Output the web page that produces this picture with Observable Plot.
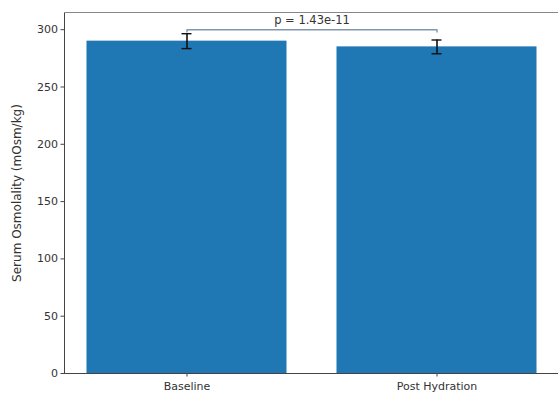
<!DOCTYPE html>
<html>
<head>
<meta charset="utf-8">
<script src="https://cdn.jsdelivr.net/npm/d3@7"></script>
<script src="https://cdn.jsdelivr.net/npm/@observablehq/plot@0.6"></script>
<style>
  html, body { margin: 0; padding: 0; background: #fff; }
  #chart svg { display: block; font-family: "DejaVu Sans", sans-serif; }
</style>
</head>
<body>
<div id="chart"></div>
<script>
const categories = ["Baseline", "Post Hydration"];
const means = [290, 285];
const errors = [6.5, 6];
const yTicks = [0, 50, 100, 150, 200, 250, 300];
const pLabel = "p = 1.43e-11";
const bracketY = 300;
const bracketDrop = 2;

const idx = categories.map((c, i) => i);
const barData = idx.map(i => ({i, cat: categories[i], mean: means[i], err: errors[i]}));
const bracket = [
  {x: 0, y: bracketY - bracketDrop},
  {x: 0, y: bracketY},
  {x: 1, y: bracketY},
  {x: 1, y: bracketY - bracketDrop}
];

const barHalf = 0.4;
const capHalf = 0.02;
const ink = "#444";

const chart = Plot.plot({
  width: 558,
  height: 394,
  marginLeft: 64,
  marginRight: 0,
  marginTop: 12,
  marginBottom: 21,
  style: {fontFamily: "DejaVu Sans, sans-serif", fontSize: "11px", color: "#333", background: "#fff"},
  x: {type: "linear", domain: [-0.49, 1.49], range: [64, 559], axis: null},
  y: {domain: [0, 315], axis: null},
  marks: [
    Plot.rectY(barData, {x1: d => d.i - barHalf, x2: d => d.i + barHalf, y1: 0, y2: "mean", fill: "#1f77b4"}),
    // error bars
    Plot.ruleX(barData, {x: "i", y1: d => d.mean - d.err, y2: d => d.mean + d.err, stroke: "#111", strokeWidth: 1.6}),
    Plot.ruleY(barData, {y: d => d.mean - d.err, x1: d => d.i - capHalf, x2: d => d.i + capHalf, stroke: "#111", strokeWidth: 1.4}),
    Plot.ruleY(barData, {y: d => d.mean + d.err, x1: d => d.i - capHalf, x2: d => d.i + capHalf, stroke: "#111", strokeWidth: 1.4}),
    // significance bracket
    Plot.line(bracket, {x: "x", y: "y", stroke: "#7f97b0", strokeWidth: 1.4}),
    Plot.text([pLabel], {x: 0.5, y: bracketY, text: d => d, dy: -9, fill: "#333", fontSize: 11.5}),
    // frame: left, bottom, top spines
    Plot.ruleX([-0.49], {stroke: ink}),
    Plot.ruleY([0], {stroke: ink}),
    Plot.ruleY([315], {stroke: "#888"}),
    // axes
    Plot.axisY(yTicks, {tickSize: 3.5, tickPadding: 3, fontSize: 11, stroke: ink, fill: "#333", label: null}),
    Plot.axisY({fontSize: 12, label: "Serum Osmolality (mOsm/kg)", labelAnchor: "center", labelArrow: "none", labelOffset: 52, ticks: [], tickSize: 0, fill: "#333"}),
    Plot.axisX(idx, {tickSize: 3.5, tickPadding: 5, fontSize: 11, tickFormat: i => categories[i], label: null, stroke: ink, fill: "#333"})
  ]
});
document.getElementById("chart").appendChild(chart);
</script>
</body>
</html>
